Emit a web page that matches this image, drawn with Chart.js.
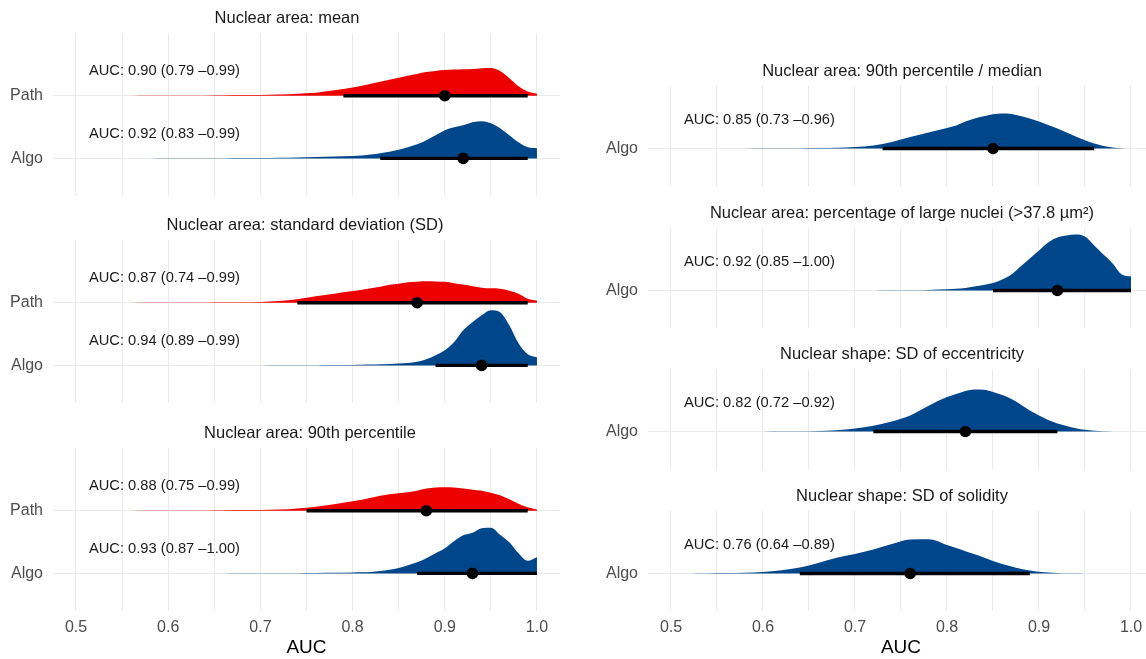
<!DOCTYPE html>
<html>
<head>
<meta charset="utf-8">
<script src="https://cdn.jsdelivr.net/npm/chart.js@4.4.1/dist/chart.umd.min.js"></script>
<style>
  html, body { margin: 0; padding: 0; background: #fff; overflow: hidden; width: 1146px; height: 659px; }
  canvas { position: absolute; }
</style>
</head>
<body>
<script>
// AUC values at which the bootstrap densities are sampled
const aucGrid = [0.50, 0.52, 0.54, 0.56, 0.58, 0.60, 0.62, 0.64, 0.66, 0.68, 0.70, 0.72, 0.74, 0.76, 0.78, 0.80,
  0.81, 0.82, 0.83, 0.84, 0.85, 0.86, 0.87, 0.88, 0.89, 0.90, 0.91, 0.92, 0.93, 0.94, 0.95, 0.96, 0.97, 0.98, 0.99, 1.00];

// density heights (relative) on aucGrid
const densMeanPath = [0, 0, 0, 0.05, 0.1, 0.15, 0.2, 0.3, 0.4, 0.6, 0.8, 1.2, 2, 3, 5.5, 8.2,
  10, 12, 14, 16, 18, 20, 21.7, 23.5, 24.7, 25.5, 26, 26.3, 26.5, 27.3, 27.5, 24.5, 17.5, 9.5, 4.3, 2];
const densMeanAlgo = [0, 0, 0, 0, 0, 0.05, 0.1, 0.15, 0.2, 0.3, 0.45, 0.7, 1, 1.4, 1.9, 2.4,
  3, 3.8, 5, 6.5, 8.5, 11, 14, 18, 23, 28, 31, 33, 36, 37, 35, 30, 23, 16, 11, 10];
const densSdPath = [0, 0, 0, 0.05, 0.1, 0.15, 0.2, 0.3, 0.4, 0.5, 0.8, 1.8, 3.5, 6.3, 9, 11.6,
  13, 14.5, 16, 17.8, 19, 20.4, 21, 21.3, 21.2, 20.8, 19.5, 18.2, 16.5, 15, 14.3, 14, 12, 9, 4, 2];
const densSdAlgo = [0, 0, 0, 0, 0, 0, 0, 0, 0, 0, 0, 0.05, 0.1, 0.2, 0.3, 0.5,
  0.6, 0.8, 1.1, 1.5, 1.9, 2.3, 3.5, 6, 10, 15, 23, 35, 43, 50, 55, 53, 40, 22, 11, 8];
const densP90Path = [0, 0, 0, 0.05, 0.1, 0.15, 0.2, 0.3, 0.4, 0.6, 0.8, 1.1, 2.2, 4, 6.5, 9.5,
  11, 13, 15, 16.5, 17.5, 18.5, 20, 22, 23, 23.3, 23, 22, 21, 20, 18, 15.5, 11.5, 7, 3.5, 1.3];
const densP90Algo = [0, 0, 0, 0, 0, 0, 0, 0, 0, 0.05, 0.1, 0.15, 0.25, 0.4, 0.6, 0.9,
  1.1, 1.5, 2.3, 3.5, 5.3, 8, 11, 15, 20, 25, 32, 38, 40.5, 45, 45.5, 38.5, 31, 20, 12.5, 16];
const densRatioAlgo = [0, 0, 0, 0.05, 0.1, 0.15, 0.25, 0.35, 0.5, 0.8, 1.5, 3, 6.5, 11.5, 16, 20.5,
  23, 27, 30, 32.3, 34.3, 35, 34.6, 32.5, 30, 27, 23.5, 20, 16, 12, 8.3, 5, 2.5, 1, 0.3, 0];
const densLargeAlgo = [0, 0, 0, 0, 0, 0, 0, 0, 0, 0, 0.05, 0.1, 0.2, 0.35, 0.6, 1.2,
  1.7, 2.5, 4, 5.5, 7.5, 11, 16, 24, 32, 40, 48, 53, 55, 56, 54, 45, 36, 27, 16, 14];
const densEccAlgo = [0, 0, 0, 0, 0.05, 0.1, 0.2, 0.35, 0.6, 1.2, 3, 5.8, 10, 16, 25.8, 34.5,
  37.5, 40.5, 42, 41.7, 39.5, 36.5, 32.5, 27, 21, 16, 11.5, 8, 5.5, 3.3, 1.7, 0.8, 0.3, 0.1, 0, 0];
const densSolAlgo = [0.05, 0.1, 0.2, 0.4, 0.8, 1.5, 3.2, 6, 10.5, 15.8, 19.5, 24, 29.5, 34, 34.3, 28.6,
  25.5, 22.3, 19.2, 16, 12.5, 9.5, 7, 4.8, 3, 1.8, 1, 0.6, 0.35, 0.2, 0.1, 0.05, 0, 0, 0, 0];

const panelTitles = [
  'Nuclear area: mean',
  'Nuclear area: standard deviation (SD)',
  'Nuclear area: 90th percentile',
  'Nuclear area: 90th percentile / median',
  'Nuclear area: percentage of large nuclei (>37.8 µm²)',
  'Nuclear shape: SD of eccentricity',
  'Nuclear shape: SD of solidity'
];
const panelRaters = [['Path', 'Algo'], ['Path', 'Algo'], ['Path', 'Algo'], ['Algo'], ['Algo'], ['Algo'], ['Algo']];
const panelDensities = [
  [densMeanPath, densMeanAlgo], [densSdPath, densSdAlgo], [densP90Path, densP90Algo],
  [densRatioAlgo], [densLargeAlgo], [densEccAlgo], [densSolAlgo]
];
const aucPoint = [[0.90, 0.92], [0.87, 0.94], [0.88, 0.93], [0.85], [0.92], [0.82], [0.76]];
const aucLower = [[0.79, 0.83], [0.74, 0.89], [0.75, 0.87], [0.73], [0.85], [0.72], [0.64]];
const aucUpper = [[0.99, 0.99], [0.99, 0.99], [0.99, 1.00], [0.96], [1.00], [0.92], [0.89]];
const xTicks = [0.5, 0.6, 0.7, 0.8, 0.9, 1.0];

const raterColors = { Path: '#ED0000', Algo: '#00468B' };
const FONT = '"Liberation Sans", Arial, Helvetica, sans-serif';
const slabScale = 1 / 62.5;

// canvas boxes: left column has two raters per panel, right column one
const panelBoxes = [
  { left: 0,   top: 0,   width: 575, plot: 163, yWidth: 53, padRight: 15, titleX: 287, labelDy: 0.39, axis: false },
  { left: 0,   top: 207, width: 575, plot: 163, yWidth: 53, padRight: 15, titleX: 305, labelDy: 0.39, axis: false },
  { left: 0,   top: 415, width: 575, plot: 163, yWidth: 53, padRight: 15, titleX: 310, labelDy: 0.39, axis: true },
  { left: 575, top: 53,  width: 600, plot: 100, yWidth: 73, padRight: 21, titleX: 902, labelDy: 0.455, axis: false },
  { left: 575, top: 195, width: 600, plot: 100, yWidth: 73, padRight: 21, titleX: 902, labelDy: 0.455, axis: false },
  { left: 575, top: 336, width: 600, plot: 100, yWidth: 73, padRight: 21, titleX: 902, labelDy: 0.455, axis: false },
  { left: 575, top: 478, width: 600, plot: 100, yWidth: 73, padRight: 21, titleX: 902, labelDy: 0.455, axis: true }
];
const titleSpace = 33;
const axisSpace = 48;
// empty strip under panels without tick labels; it absorbs the y label overhang
const footSpace = 32;

// major ticks plus a minor line halfway between each pair
const xGrid = [];
xTicks.forEach((t, i) => {
  xGrid.push(t);
  if (i < xTicks.length - 1) xGrid.push((t + xTicks[i + 1]) / 2);
});

const panelText = {
  id: 'panelText',
  afterDatasetsDraw(chart, args, opts) {
    const { ctx, chartArea, scales: { x, y } } = chart;
    ctx.save();
    ctx.fillStyle = '#1a1a1a';
    ctx.textBaseline = 'middle';
    ctx.textAlign = 'center';
    ctx.font = '16.5px ' + FONT;
    ctx.fillText(opts.title, opts.titleX, chartArea.top - 15);
    ctx.textAlign = 'left';
    ctx.font = '14.7px ' + FONT;
    opts.labels.forEach(l => ctx.fillText(l.text, x.getPixelForValue(l.x), y.getPixelForValue(l.y)));
    ctx.restore();
  }
};

function noEdgePadding(s) {
  s.paddingTop = 0;
  s.paddingBottom = 0;
  s.paddingLeft = 0;
  s.paddingRight = 0;
}

function buildPanel(p) {
  const box = panelBoxes[p];
  const raters = panelRaters[p];
  const n = raters.length;
  const foot = box.axis ? axisSpace : footSpace;

  const canvas = document.createElement('canvas');
  canvas.width = box.width;
  canvas.height = titleSpace + box.plot + foot;
  canvas.style.left = box.left + 'px';
  canvas.style.top = box.top + 'px';
  document.body.appendChild(canvas);

  const datasets = [];
  const labels = [];
  raters.forEach((rater, r) => {
    const level = n - r;
    const dens = panelDensities[p][r];
    const pt = aucPoint[p][r], lo = aucLower[p][r], hi = aucUpper[p][r];
    datasets.push({
      type: 'scatter', data: [{ x: pt, y: level }],
      pointRadius: 5.8, pointBackgroundColor: '#000', pointBorderWidth: 0, order: 0
    });
    datasets.push({
      type: 'line', data: [{ x: lo, y: level }, { x: hi, y: level }],
      borderColor: '#000', borderWidth: 3.4, pointRadius: 0, fill: false, order: 1
    });
    datasets.push({
      type: 'line',
      data: aucGrid.map((a, i) => ({ x: a, y: level + dens[i] * slabScale })),
      borderColor: 'rgba(0,0,0,0)', borderWidth: 0, backgroundColor: raterColors[rater],
      fill: { value: level }, pointRadius: 0, cubicInterpolationMode: 'monotone', order: 2
    });
    labels.push({
      x: 0.514, y: level + box.labelDy,
      text: 'AUC: ' + pt.toFixed(2) + ' (' + lo.toFixed(2) + ' \u2013' + hi.toFixed(2) + ')'
    });
  });

  new Chart(canvas, {
    data: { datasets },
    options: {
      responsive: false,
      animation: false,
      devicePixelRatio: 1,
      events: [],
      layout: { padding: { left: 0, top: titleSpace, right: box.padRight, bottom: 0 } },
      plugins: {
        legend: { display: false },
        tooltip: { enabled: false },
        panelText: { title: panelTitles[p], titleX: box.titleX - box.left, labels }
      },
      scales: {
        x: {
          type: 'linear', min: 0.475, max: 1.025,
          afterBuildTicks: s => { s.ticks = xGrid.map(v => ({ value: v })); },
          afterFit: s => { s.height = foot; noEdgePadding(s); },
          ticks: {
            display: box.axis, autoSkip: false, maxRotation: 0, padding: 6.5,
            color: '#4d4d4d', font: { size: 16, family: FONT },
            callback: (v, i) => (i % 2 === 0 ? v.toFixed(1) : '')
          },
          grid: { color: '#ebebeb', lineWidth: 1.1, drawTicks: false },
          border: { display: false },
          title: { display: box.axis, text: 'AUC', color: '#000', font: { size: 19, family: FONT }, padding: 0 }
        },
        y: {
          type: 'linear', min: 0.4, max: n + 1,
          afterBuildTicks: s => { s.ticks = raters.map((r, i) => ({ value: i + 1 })); },
          afterFit: s => { s.width = box.yWidth; noEdgePadding(s); },
          ticks: {
            padding: 10, color: '#4d4d4d', font: { size: 16, family: FONT },
            callback: v => raters[n - v]
          },
          grid: { color: '#ebebeb', lineWidth: 1.1, drawTicks: false },
          border: { display: false }
        }
      }
    },
    plugins: [panelText]
  });
}

panelTitles.forEach((t, p) => buildPanel(p));
</script>
</body>
</html>
